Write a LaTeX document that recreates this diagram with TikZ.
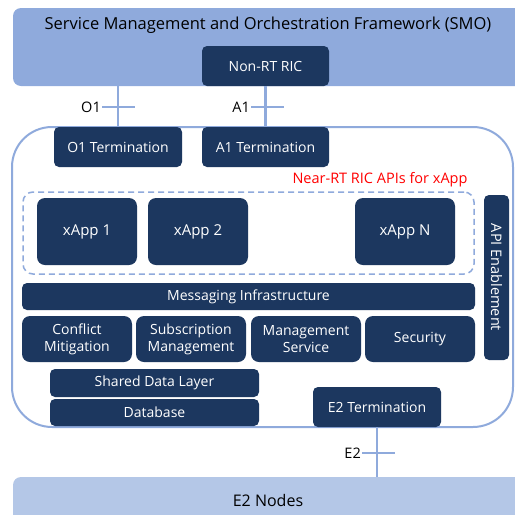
\documentclass[tikz,border=0pt]{standalone}
\usepackage{fontspec}
\setmainfont{Open Sans}
\usetikzlibrary{positioning}

\definecolor{smoblue}{HTML}{8FAADC}
\definecolor{nodeblue}{HTML}{B4C7E7}
\definecolor{navy}{HTML}{1C375F}

\tikzset{
	block/.style={fill=navy, text=white, rounded corners=5, inner sep=0, outer sep=0,
		align=center, anchor=north west, font=\fontsize{14}{17}\selectfont},
	plate/.style={inner sep=0, outer sep=0, anchor=north west, rounded corners=8},
	link/.style={draw=smoblue, line width=2.5},
	iflabel/.style={left, inner sep=1, font=\fontsize{14.5}{16}\selectfont},
}

\begin{document}
\begin{tikzpicture}[x=1pt, y=-1pt]
		\useasboundingbox (0,0) rectangle (515,515);
		% SMO and E2 nodes
		\node[plate, fill=smoblue, minimum width=510, minimum height=78] (smo) at (13,8) {};
		\node[font=\fontsize{16.5}{19}\selectfont] (smotitle) at (268,25) {Service Management and Orchestration Framework (SMO)};
		\node[block, minimum width=127, minimum height=40] (nonrt) at (202,46) {Non-RT RIC};
		\node[plate, fill=nodeblue, minimum width=510, minimum height=46, font=\fontsize{16}{18}\selectfont] (e2nodes) at (13,477) {E2 Nodes};

		% near-RT RIC
		\node[plate, draw=smoblue, line width=2, fill=white, rounded corners=40, minimum width=501, minimum height=300] (nearrt) at (12,127) {};
		\node[block, minimum width=128, minimum height=40] (o1term) at (54,127) {O1 Termination};
		\node[block, minimum width=127, minimum height=40] (a1term) at (202,127) {A1 Termination};
		\node[text=red, font=\fontsize{14.5}{16}\selectfont] (apilabel) at (380,180) {Near-RT RIC APIs for xApp};
		\node[plate, draw=smoblue, line width=1.5, dash pattern=on 6 off 4, rounded corners=10, minimum width=451, minimum height=82] (xapps) at (23,192) {};
		\node[block, rounded corners=8, minimum width=100, minimum height=67, font=\fontsize{15}{17}\selectfont] (xapp1) at (37,198) {xApp 1};
		\node[block, rounded corners=8, minimum width=100, minimum height=67, font=\fontsize{15}{17}\selectfont] (xapp2) at (148,198) {xApp 2};
		\node[block, rounded corners=8, minimum width=100, minimum height=67, font=\fontsize{15}{17}\selectfont] (xappn) at (355,198) {xApp N};
		\node[block, minimum width=25, minimum height=165] (apien) at (484,195) {};
		\node[text=white, rotate=-90, font=\fontsize{14.5}{16}\selectfont] (apientext) at (apien.center) {API Enablement};
		\node[block, minimum width=453, minimum height=27] (msg) at (22,283) {Messaging Infrastructure};
		\node[block, rounded corners=8, minimum width=110, minimum height=46] (conflict) at (22,316) {Conflict\\Mitigation};
		\node[block, rounded corners=8, minimum width=110, minimum height=46] (subs) at (136,316) {Subscription\\Management};
		\node[block, rounded corners=8, minimum width=110, minimum height=46] (mgmt) at (251,316) {Management\\Service};
		\node[block, rounded corners=8, minimum width=110, minimum height=46] (security) at (365,316) {Security};
		\node[block, minimum width=209, minimum height=28] (sdl) at (50,369) {Shared Data Layer};
		\node[block, minimum width=209, minimum height=27] (db) at (50,399) {Database};
		\node[block, minimum width=128, minimum height=40] (e2term) at (313,387) {E2 Termination};

		% interfaces
		\draw[link] (smo.south -| o1term.north) -- (o1term.north);
		\draw[link] (nonrt.south) -- (a1term.north);
		\draw[link] (e2term.south) -- (e2term.south |- e2nodes.north);
		\coordinate (o1tick) at (119,107);
		\coordinate (a1tick) at (268,107);
		\coordinate (e2tick) at (379,453);
		\draw[link] ([xshift=-17]o1tick) -- ([xshift=16]o1tick);
		\draw[link] ([xshift=-17]a1tick) -- ([xshift=16]a1tick);
		\draw[link] ([xshift=-17]e2tick) -- ([xshift=16]e2tick);
		\node[iflabel] (o1lab) at ([xshift=-17]o1tick) {O1};
		\node[iflabel] (a1lab) at ([xshift=-17]a1tick) {A1};
		\node[iflabel] (e2lab) at ([xshift=-17]e2tick) {E2};
\end{tikzpicture}
\end{document}
